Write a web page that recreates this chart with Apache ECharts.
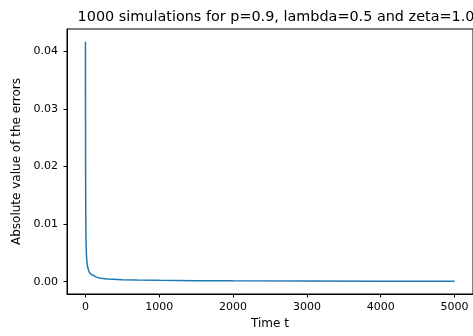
<!DOCTYPE html>
<html>
<head>
<meta charset="utf-8">
<script src="https://cdn.jsdelivr.net/npm/echarts@6/dist/echarts.min.js"></script>
<style>
    html, body { margin: 0; padding: 0; background: #fff; }
    #chart { width: 473px; height: 336px; }
</style>
</head>
<body>
<div id="chart"></div>
<script>
    // values
    var time_t = [0, 1, 2, 3, 5, 8, 12, 20, 30, 50, 75, 100, 150, 200, 300, 500, 700, 1000, 1500, 2000, 3000, 4000, 5000];
    var abs_errors = [0.0417, 0.028, 0.020, 0.015, 0.010, 0.0068, 0.0050, 0.0034, 0.0025, 0.0017, 0.0013, 0.0010, 0.0008, 0.00062, 0.00048, 0.00036, 0.00030, 0.00024, 0.00018, 0.00015, 0.00011, 0.00009, 0.00008];
    var x_ticks = [0, 1000, 2000, 3000, 4000, 5000];
    var y_ticks = [0.00, 0.01, 0.02, 0.03, 0.04];

    var line_data = [];
    for (var i = 0; i < time_t.length; i++) {
        line_data.push([time_t[i], abs_errors[i]]);
    }

    var myChart = echarts.init(document.getElementById('chart'), null, {renderer: 'canvas'});
    var font = 'DejaVu Sans';

    var charts_option = {};
    charts_option['animation'] = false;
    charts_option['title'] = {
        text: '1000 simulations for p=0.9, lambda=0.5 and zeta=1.0',
        left: 271, top: 5, textAlign: 'center',
        textStyle: {fontFamily: font, fontSize: 14.4, fontWeight: 'normal', color: '#000'}
    };
    charts_option['grid'] = {
        left: 67, top: 29, width: 408, height: 265,
        show: true, borderColor: '#000', borderWidth: 1, backgroundColor: 'transparent'
    };
    charts_option['xAxis'] = {
        type: 'value', min: -250, max: 5250,
        name: 'Time t', nameLocation: 'middle', nameGap: 23,
        nameTextStyle: {fontFamily: font, fontSize: 12, color: '#000'},
        axisLine: {show: true, onZero: false, lineStyle: {color: '#000', width: 1}},
        axisTick: {show: true, length: 3.5, customValues: x_ticks, lineStyle: {color: '#000'}},
        axisLabel: {
            customValues: x_ticks, margin: 8, fontFamily: font, fontSize: 11, color: '#000',
            formatter: function (v) { return String(v); }
        },
        splitLine: {show: false}
    };
    charts_option['yAxis'] = {
        type: 'value', min: -0.00213, max: 0.0439,
        name: 'Absolute value of the errors', nameLocation: 'middle', nameGap: 41,
        nameTextStyle: {fontFamily: font, fontSize: 12, color: '#000'},
        axisLine: {show: true, onZero: false, lineStyle: {color: '#000', width: 1}},
        axisTick: {show: true, length: 3.5, customValues: y_ticks, lineStyle: {color: '#000'}},
        axisLabel: {
            customValues: y_ticks, margin: 9, fontFamily: font, fontSize: 11, color: '#000',
            formatter: function (v) { return v.toFixed(2); }
        },
        splitLine: {show: false}
    };
    charts_option['series'] = [{
        type: 'line', data: line_data, symbol: 'none', smooth: false,
        lineStyle: {color: '#1f77b4', width: 1.5}
    }];

    myChart.setOption(charts_option);
</script>
</body>
</html>
